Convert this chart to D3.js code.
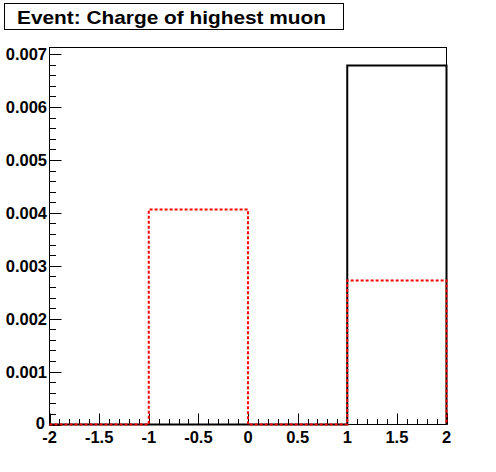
<!DOCTYPE html>
<html><head><meta charset="utf-8">
<script src="https://cdn.jsdelivr.net/npm/d3@7"></script>
<style>body{margin:0;background:#fff}svg{display:block}</style>
</head><body>
<script>
const binEdges = [-2, -1, 0, 1, 2];
const blackValues = [0, 0, 0, 0.006787];
const redValues = [0, 0.004062, 0, 0.002723];
const xTicks = [-2, -1.5, -1, -0.5, 0, 0.5, 1, 1.5, 2];
const xTickLabels = ["-2", "-1.5", "-1", "-0.5", "0", "0.5", "1", "1.5", "2"];
const yTicks = [0, 0.001, 0.002, 0.003, 0.004, 0.005, 0.006, 0.007];
const yTickLabels = ["0", "0.001", "0.002", "0.003", "0.004", "0.005", "0.006", "0.007"];
const title = "Event: Charge of highest muon";
const yMax = 0.007126;

const W = 496, H = 472;
const L = 49.5, R = 446.5, T = 47.5, B = 424.5;
const svg = d3.select("body").append("svg").attr("width", W).attr("height", H);
const x = d3.scaleLinear().domain([-2, 2]).range([L, R]);
const y = d3.scaleLinear().domain([0, yMax]).range([B, T]);
const font = "'Liberation Sans', Arial, Helvetica, sans-serif";

// frame
svg.append("rect").attr("x", L).attr("y", T).attr("width", R - L).attr("height", B - T)
  .attr("fill", "none").attr("stroke", "#000").attr("stroke-width", 1);

// minor ticks
const xMinor = d3.range(-2, 2.0001, 0.1);
svg.append("g").selectAll("line").data(xMinor).join("line")
  .attr("x1", d => Math.round(x(d)) + 0.5).attr("x2", d => Math.round(x(d)) + 0.5)
  .attr("y1", B).attr("y2", B - 5.5).attr("stroke", "#000");
svg.append("g").selectAll("line").data(xTicks).join("line")
  .attr("x1", d => Math.round(x(d)) + 0.5).attr("x2", d => Math.round(x(d)) + 0.5)
  .attr("y1", B).attr("y2", B - 11).attr("stroke", "#000");
const yMinor = d3.range(0, yMax, 0.0002);
svg.append("g").selectAll("line").data(yMinor).join("line")
  .attr("y1", d => Math.round(y(d)) + 0.5).attr("y2", d => Math.round(y(d)) + 0.5)
  .attr("x1", L).attr("x2", L + 6.5).attr("stroke", "#000");
svg.append("g").selectAll("line").data(yTicks).join("line")
  .attr("y1", d => Math.round(y(d)) + 0.5).attr("y2", d => Math.round(y(d)) + 0.5)
  .attr("x1", L).attr("x2", L + 12).attr("stroke", "#000");

// tick labels
svg.append("g").selectAll("text").data(xTicks).join("text")
  .attr("x", d => x(d)).attr("y", 443).attr("text-anchor", "middle")
  .attr("font-family", font).attr("font-weight", "bold").attr("font-size", 16.5)
  .text((d, i) => xTickLabels[i]);
svg.append("g").selectAll("text").data(yTicks).join("text")
  .attr("x", d => d === 0 ? 45 : 47).attr("y", d => d === 0 ? y(d) + 4 : y(d) + 6).attr("text-anchor", "end")
  .attr("font-family", font).attr("font-weight", "bold").attr("font-size", 16.5)
  .text((d, i) => yTickLabels[i]);

// histograms
function stepPath(vals) {
  const pts = [[binEdges[0], 0]];
  vals.forEach((v, i) => { pts.push([binEdges[i], v]); pts.push([binEdges[i + 1], v]); });
  pts.push([binEdges[binEdges.length - 1], 0]);
  return d3.line().x(d => x(d[0])).y(d => y(d[1]))(pts);
}
svg.append("path").attr("d", stepPath(blackValues)).attr("fill", "none")
  .attr("stroke", "#000").attr("stroke-width", 2);
svg.append("path").attr("d", stepPath(redValues)).attr("fill", "none")
  .attr("stroke", "#ff0000").attr("stroke-width", 2).attr("stroke-dasharray", "3,2");

// title box
svg.append("rect").attr("x", 4.5).attr("y", 3.5).attr("width", 339).attr("height", 26)
  .attr("fill", "#fff").attr("stroke", "#000").attr("stroke-width", 1);
svg.append("text").attr("x", 171.5).attr("y", 23.5).attr("text-anchor", "middle")
  .attr("font-family", font).attr("font-weight", "bold").attr("font-size", 19)
  .attr("textLength", 309).attr("lengthAdjust", "spacingAndGlyphs")
  .text(title);
</script>
</body></html>
